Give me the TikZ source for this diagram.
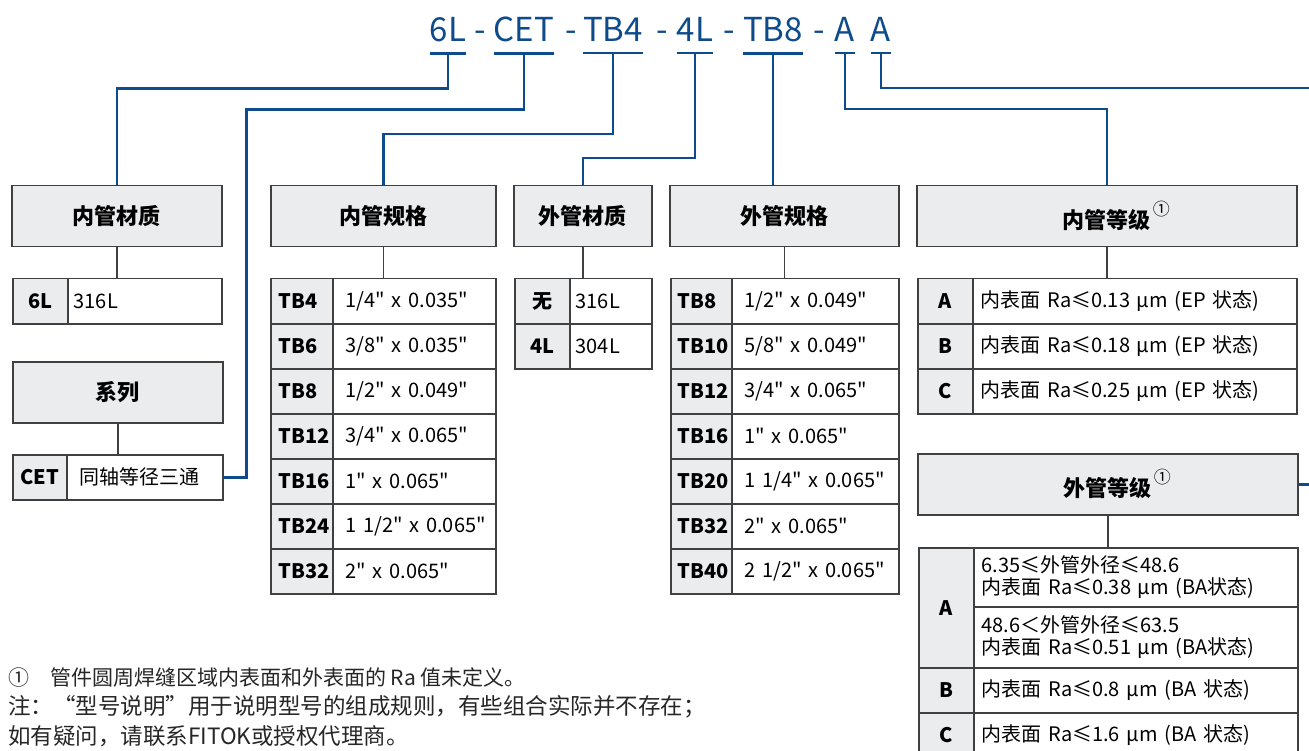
\documentclass[tikz,border=0pt]{standalone}
\usepackage{fontspec}
\setmainfont{Noto Sans CJK SC}[Ligatures=TeXOff]
\newfontfamily\fullw{Noto Sans CJK SC}[RawFeature=+fwid]
\definecolor{codeblue}{RGB}{14,75,140}
\definecolor{boxgray}{RGB}{64,64,64}
\definecolor{shade}{RGB}{235,236,238}
\newcommand{\circone}{\rlap{\hspace{2pt}\raisebox{13pt}{\mdseries\fontsize{17}{17}\selectfont ①}}}

\begin{document}
\begin{tikzpicture}[x=1pt, y=-1pt,
  code/.style={text=codeblue, font=\fontsize{33}{38}\selectfont, inner sep=0pt, anchor=base},
  link/.style={draw=codeblue, line width=2.5pt},
  tie/.style={draw=boxgray, line width=1.5pt},
  box/.style={draw=boxgray, line width=1.5pt, inner sep=0pt, anchor=north west},
  head/.style={box, fill=shade, minimum height=61pt, font=\fontsize{22}{26}\selectfont\bfseries},
  keycell/.style={box, fill=shade, minimum height=45pt, font=\fontsize{20}{24}\selectfont\bfseries},
  valcell/.style={box, fill=white, minimum height=45pt, align=left, font=\fontsize{20}{22}\selectfont},
  note/.style={anchor=base west, inner sep=0pt, text=black!85, font=\fontsize{22.5}{26}\selectfont}]
\useasboundingbox (0,0) rectangle (1309,751);

% model code
\foreach \c/\x [count=\i] in {6L/448, CET/524, TB4/613, 4L/695, TB8/773, A/845, A/881} {
  \node[code] (t\i) at (\x,42) {\c};
  \coordinate (b\i) at ([yshift=-11pt]t\i.south);
  \draw[link] ([yshift=-11pt]t\i.south west) -- ([yshift=-11pt]t\i.south east);
}
\foreach \x [count=\i] in {480,571,662,729,819}
  \node[code] (d\i) at (\x,42) {-};

% headers
\node[head, minimum width=210pt] (imat) at (11,185) {内管材质};
\node[head, minimum width=210pt] (ser) at (12,361) {系列};
\node[head, minimum width=225pt] (isize) at (270,185) {内管规格};
\node[head, minimum width=138pt] (omat) at (513,185) {外管材质};
\node[head, minimum width=229pt] (osize) at (669,185) {外管规格};
\node[head, minimum width=380pt] (igrade) at (916,185) {内管等级\circone};
\node[head, minimum width=380pt] (ograde) at (917,453) {外管等级\circone};

% inner material, series
\node[keycell, minimum width=55pt] (mk) at (12,278) {6L};
\node[valcell, text width=142pt, inner xsep=6pt] (mv) at (67,278) {316L};
\node[keycell, minimum width=54pt] (sk) at (12,454) {CET};
\node[valcell, text width=130pt, inner xsep=13pt] (sv) at (66,454) {同轴等径三通};

% inner tube size
\foreach \k/\v [count=\i] in {TB4/{1/4" x 0.035"}, TB6/{3/8" x 0.035"}, TB8/{1/2" x 0.049"},
    TB12/{3/4" x 0.065"}, TB16/{1" x 0.065"}, TB24/{1 1/2" x 0.065"}, TB32/{2" x 0.065"}} {
  \node[keycell, text width=46pt, inner xsep=8pt, align=left] (ik\i) at (270,233+45*\i) {\k};
  \node[valcell, text width=137pt, inner xsep=13pt] (iv\i) at (332,233+45*\i) {\mbox{\v}};
}

% outer material
\foreach \k/\v [count=\i] in {无/316L, 4L/304L} {
  \node[keycell, minimum width=55pt] (ok\i) at (514,233+45*\i) {\k};
  \node[valcell, text width=70pt, inner xsep=6pt] (ov\i) at (569,233+45*\i) {\v};
}

% outer tube size
\foreach \k/\v [count=\i] in {TB8/{1/2" x 0.049"}, TB10/{5/8" x 0.049"}, TB12/{3/4" x 0.065"},
    TB16/{1" x 0.065"}, TB20/{1 1/4" x 0.065"}, TB32/{2" x 0.065"}, TB40/{2 1/2" x 0.065"}} {
  \node[keycell, text width=47pt, inner xsep=7pt, align=left] (sk\i) at (670,233+45*\i) {\k};
  \node[valcell, text width=141pt, inner xsep=13pt] (sv\i) at (731,233+45*\i) {\mbox{\v}};
}

% inner grade
\foreach \k/\v [count=\i] in {A/0.13, B/0.18, C/0.25} {
  \node[keycell, minimum width=55pt] (gk\i) at (917,233+45*\i) {\k};
  \node[valcell, text width=308pt, inner xsep=8pt] (gv\i) at (972,233+45*\i) {内表面 Ra≤\v{} µm (EP 状态)};
}

% outer grade
\node[keycell, minimum width=55pt, minimum height=120pt] (gA) at (918,547) {A};
\node[valcell, text width=308pt, inner xsep=8pt, minimum height=59pt] (gA1) at (973,547)
  {6.35≤外管外径≤48.6\\内表面 Ra≤0.38 µm (BA状态)};
\node[valcell, text width=308pt, inner xsep=8pt, minimum height=61pt] (gA2) at (973,606)
  {48.6＜外管外径≤63.5\\内表面 Ra≤0.51 µm (BA状态)};
\node[keycell, minimum width=55pt] (gB) at (918,667) {B};
\node[valcell, text width=308pt, inner xsep=8pt] (gBv) at (973,667) {内表面 Ra≤0.8 µm (BA 状态)};
\node[keycell, minimum width=55pt] (gC) at (918,712) {C};
\node[valcell, text width=308pt, inner xsep=8pt] (gCv) at (973,712) {内表面 Ra≤1.6 µm (BA 状态)};

% header to table
\draw[tie] (imat.south) -- (imat.south |- mv.north);
\draw[tie] (ser.south) -- (ser.south |- sv.north);
\draw[tie] (isize.south) -- (isize.south |- iv1.north);
\draw[tie] (omat.south) -- (omat.south |- ov1.north);
\draw[tie] (osize.south) -- (osize.south |- sv1.north);
\draw[tie] (igrade.south) -- (igrade.south |- gv1.north);
\draw[tie] (ograde.south) -- (ograde.south |- gA1.north);

% code to header
\draw[link] (b1) -- ++(0,35) -| (imat.north);
\draw[link] (b2) -- ++(0,56) -| ([xshift=23pt]sv.east) -- (sv.east);
\draw[link] (b3) -- ++(0,81) -| (isize.north);
\draw[link] (b4) -- ++(0,105) -| (omat.north);
\draw[link] (b5) -- (b5 |- osize.north);
\draw[link] (b6) -- ++(0,56) -| (igrade.north);
\draw[link] (b7) -- ++(0,35) -| ([xshift=19pt]ograde.east) -- (ograde.east);

% notes
\node[note, font=\fontsize{21}{26}\selectfont] (n1) at (8,685) {①\quad 管件圆周焊缝区域内表面和外表面的 Ra 值未定义。};
\node[note] (n2) at (8,714) {注：{\fullw “}型号说明{\fullw ”}用于说明型号的组成规则，有些组合实际并不存在；};
\node[note] (n3) at (8,744) {如有疑问，请联系FITOK或授权代理商。};
\end{tikzpicture}
\end{document}
